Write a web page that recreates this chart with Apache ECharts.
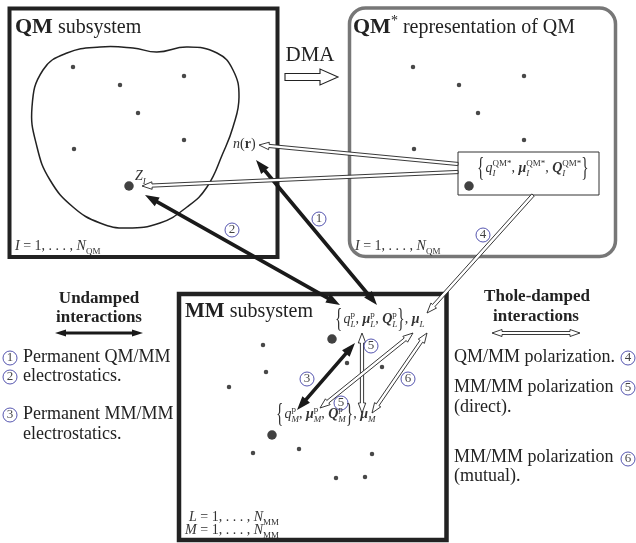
<!DOCTYPE html>
<html><head><meta charset="utf-8">
<script src="https://cdn.jsdelivr.net/npm/echarts@6/dist/echarts.min.js"></script>
<style>html,body{margin:0;padding:0;background:#fff}#c{width:636px;height:543px}</style>
</head><body><div id="c"></div>
<script>
// ---------------- data ----------------
const qmDots = [[73,67],[120,85],[184,76],[138,113],[184,140],[74,149]];
const qmStarDots = [[413,67],[459,85],[524,76],[478,113],[524,140],[414,149]];
const mmDots = [[263,345],[266,372],[229,387],[347,363],[382,367],[253,453],[299,449],[372,454],[336,478],[365,477]];
const bigDots = [[129,186],[469,186],[332,339],[272,435]];
const blobOutline = [[32,107],[43,70],[67,53],[100,47],[133,48],[157,52],[187,47],[217,53],[233,70],[239,97],[233,127],[223,153],[207,187],[187,207],[160,223],[127,228],[100,223],[73,207],[50,180],[37,147]];
const undampedArrows = [[256,160,377,305],[145,195,340,305],[355,343,297,410]];
const tholeArrows = [[362,333,362,413],[413,333,320,408],[427,333,372,413]];
const qmStarArrows = [[458,164,259,145],[458,172,142,186],[533,195,427,313]];
const legendUndamped = [[55,333,143,333]];
const legendThole = [[492,333,580,333]];
const dmaArrow = [[285,77,338,77]];
const circleMarks = [['1',319,219],['2',232,230],['3',307,379],['4',483,235],['5',371,346],['5',341,403],['6',408,379],
  ['1',10,358],['2',10,377],['3',10,415],['4',628,358],['5',628,388],['6',628,459]];

// ---------------- helpers ----------------
const FF = '"Liberation Serif","Times New Roman",serif';
const mctx = document.createElement('canvas').getContext('2d');
function fnt(s){return (s.it?'italic ':'')+(s.b?'bold ':'')+s.size+'px '+FF;}
function tw(t,s){mctx.font=fnt(s);return mctx.measureText(t).width*(s.sx||1);}
function seq(x, base, segs, opt){
  opt = opt||{};
  const defs = {size:opt.size||13, color:opt.color||'#222', b:opt.b, it:opt.it};
  const items=[]; let cx=0;
  segs.forEach(g=>{
    if (typeof g==='string') g={t:g};
    const s=Object.assign({}, defs, g);
    const dy=s.dy||0;
    if (s.t){ items.push({t:s.t,x:cx,dy:dy,s:s}); cx+=tw(s.t,s); }
    let adv=0; const ss=s.ssize||Math.round(s.size*0.66);
    if (s.sup){ const sp={size:ss,it:s.supIt,color:s.color}; items.push({t:s.sup,x:cx,dy:dy-s.size*0.42,s:sp}); adv=Math.max(adv,tw(s.sup,sp)); }
    if (s.sub){ const sb={size:ss,it:s.subIt,color:s.color}; items.push({t:s.sub,x:cx,dy:dy+s.size*0.25,s:sb}); adv=Math.max(adv,tw(s.sub,sb)); }
    cx+=adv+(s.gap||0);
  });
  const x0 = opt.align==='center'? x-cx/2 : opt.align==='right'? x-cx : x;
  return items.map(it=>({type:'text', x:x0+it.x, y:base+it.dy-0.34*it.s.size, z:100, silent:true,
    scaleX: it.s.sx||1, originX:0, originY:0,
    style:{text:it.t, font:fnt(it.s), fill:it.s.color, align:'left', verticalAlign:'middle', textAlign:'left', textVerticalAlign:'middle'}}));
}
function arrowPoly(p1,p2,w,L,H,head1,head2){
  const dx=p2[0]-p1[0], dy=p2[1]-p1[1], len=Math.hypot(dx,dy);
  const ux=dx/len, uy=dy/len, nx=-uy, ny=ux;
  const P=(p,a,b)=>[p[0]+ux*a+nx*b, p[1]+uy*a+ny*b];
  w/=2; H/=2; const pts=[];
  if (head1) pts.push(P(p1,0,0),P(p1,L,H),P(p1,L,w)); else pts.push(P(p1,0,w));
  if (head2) pts.push(P(p2,-L,w),P(p2,-L,H),P(p2,0,0),P(p2,-L,-H),P(p2,-L,-w)); else pts.push(P(p2,0,w),P(p2,0,-w));
  if (head1) pts.push(P(p1,L,-w),P(p1,L,-H)); else pts.push(P(p1,0,-w));
  return pts;
}
function arrowSeries(name, data, o, head1){
  return {type:'custom', name:name, coordinateSystem:'cartesian2d', data:data, encode:{x:[0,2],y:[1,3]}, z:o.z||3, silent:true,
    renderItem:function(params, api){
      const p1=api.coord([api.value(0),api.value(1)]), p2=api.coord([api.value(2),api.value(3)]);
      return {type:'polygon', shape:{points:arrowPoly(p1,p2,o.w,o.L,o.H,head1,true)},
        style:{fill:o.fill, stroke:o.stroke||null, lineWidth:o.lw||0, lineJoin:'miter'}};
    }};
}
const hollow = {w:3.2,L:10,H:7.5,fill:'#fff',stroke:'#222',lw:0.9};
const filled = {w:3.6,L:14,H:10,fill:'#1a1a1a'};

// ---------------- text ----------------
const T = [];
const mathC = '#333';
T.push(...seq(15,35,[{t:'QM',b:1,size:22},{t:' subsystem',size:20}]));
T.push(...seq(353,35,[{t:'QM',b:1,size:22,sup:'*',ssize:14},{t:' representation of QM',size:20}]));
T.push(...seq(310,63,[{t:'DMA',size:21}],{align:'center'}));
T.push(...seq(185,319,[{t:'MM',b:1,size:21},{t:' subsystem',size:20}]));
const rangeQM = [{t:'I',it:1},' = 1, . . . , ',{t:'N',it:1,sub:'QM'}];
T.push(...seq(15,251,rangeQM,{size:14,color:mathC}));
T.push(...seq(355,251,rangeQM,{size:14,color:mathC}));
T.push(...seq(279,522,[{t:'L',it:1},' = 1, . . . , ',{t:'N',it:1,sub:'MM'}],{size:14,color:mathC,align:'right'}));
T.push(...seq(279,535,[{t:'M',it:1},' = 1, . . . , ',{t:'N',it:1,sub:'MM'}],{size:14,color:mathC,align:'right'}));
T.push(...seq(233,149,[{t:'n',it:1},'(',{t:'r',b:1},')'],{size:14,color:mathC}));
T.push(...seq(135,181,[{t:'Z',it:1,sub:'I',subIt:1}],{size:14,color:mathC}));
const brL = {t:'{',size:28,sx:0.55,dy:5,gap:1}, brR = {t:'}',size:28,sx:0.55,dy:5};
T.push(...seq(477,173,[brL,{t:'q',it:1,sup:'QM*',sub:'I',subIt:1},', ',{t:'μ',it:1,b:1,sup:'QM*',sub:'I',subIt:1},', ',{t:'Q',it:1,b:1,sup:'QM*',sub:'I',subIt:1},brR],{size:14,color:mathC}));
T.push(...seq(335,324,[brL,{t:'q',it:1,sup:'p',sub:'L',subIt:1},', ',{t:'μ',it:1,b:1,sup:'p',sub:'L',subIt:1},', ',{t:'Q',it:1,b:1,sup:'p',sub:'L',subIt:1},brR,', ',{t:'μ',it:1,b:1,sub:'L',subIt:1}],{size:14,color:mathC}));
T.push(...seq(276,419,[brL,{t:'q',it:1,sup:'p',sub:'M',subIt:1},', ',{t:'μ',it:1,b:1,sup:'p',sub:'M',subIt:1},', ',{t:'Q',it:1,b:1,sup:'p',sub:'M',subIt:1},brR,', ',{t:'μ',it:1,b:1,sub:'M',subIt:1}],{size:14,color:mathC}));
// legends
T.push(...seq(99,304,['Undamped'],{size:17,b:1,align:'center'}));
T.push(...seq(99,323,['interactions'],{size:17,b:1,align:'center'}));
T.push(...seq(537,302,['Thole-damped'],{size:17,b:1,align:'center'}));
T.push(...seq(536,322,['interactions'],{size:17,b:1,align:'center'}));
T.push(...seq(23,363,['Permanent QM/MM'],{size:18}));
T.push(...seq(23,382,['electrostatics.'],{size:18}));
T.push(...seq(23,420,['Permanent MM/MM'],{size:18}));
T.push(...seq(23,440,['electrostatics.'],{size:18}));
T.push(...seq(454,363,['QM/MM polarization.'],{size:18}));
T.push(...seq(454,393,['MM/MM polarization'],{size:18}));
T.push(...seq(454,413,['(direct).'],{size:18}));
T.push(...seq(454,463,['MM/MM polarization'],{size:18}));
T.push(...seq(454,482,['(mutual).'],{size:18}));

const boxes = [
  {type:'rect', z:1, silent:true, shape:{x:9.5,y:8.5,width:268,height:248.5}, style:{fill:null, stroke:'#222', lineWidth:4}},
  {type:'rect', z:1, silent:true, shape:{x:349.5,y:8,width:266,height:248.5,r:16}, style:{fill:null, stroke:'#777', lineWidth:3.5}},
  {type:'rect', z:1, silent:true, shape:{x:179,y:294,width:267.5,height:246}, style:{fill:null, stroke:'#222', lineWidth:4.5}},
  {type:'rect', z:1, silent:true, shape:{x:458,y:152,width:141,height:43}, style:{fill:'#fff', stroke:'#333', lineWidth:1}}
];

const chart = echarts.init(document.getElementById('c'));
chart.setOption({
  animation:false,
  backgroundColor:'#fff',
  grid:{left:0,right:0,top:0,bottom:0},
  xAxis:{type:'value',min:0,max:636,show:false},
  yAxis:{type:'value',min:0,max:543,inverse:true,show:false},
  graphic:{elements: boxes.concat(T)},
  series:[
    {type:'custom', name:'blob', coordinateSystem:'cartesian2d', data:[[0,0]], z:2, silent:true,
      renderItem:function(params, api){
        return {type:'polygon', shape:{points: blobOutline.map(p=>api.coord(p)), smooth:0.45},
          style:{fill:null, stroke:'#222', lineWidth:1.5}};
      }},
    {type:'scatter', name:'QM sites', data:qmDots, symbolSize:4.5, itemStyle:{color:'#1a1a1a'}, silent:true},
    {type:'scatter', name:'QM* sites', data:qmStarDots, symbolSize:4.5, itemStyle:{color:'#1a1a1a'}, silent:true},
    {type:'scatter', name:'MM sites', data:mmDots, symbolSize:4.5, itemStyle:{color:'#1a1a1a'}, silent:true},
    {type:'scatter', name:'highlighted sites', data:bigDots, symbolSize:9.5, itemStyle:{color:'#111'}, silent:true, z:4},
    arrowSeries('undamped', undampedArrows, filled, true),
    arrowSeries('thole', tholeArrows, hollow, true),
    arrowSeries('qmstar', qmStarArrows, hollow, false),
    arrowSeries('legend undamped', legendUndamped, {w:2.8,L:11,H:7,fill:'#1a1a1a'}, true),
    arrowSeries('legend thole', legendThole, {w:3,L:10,H:7,fill:'#fff',stroke:'#222',lw:0.9}, true),
    arrowSeries('dma', dmaArrow, {w:7,L:18,H:16,fill:'#fff',stroke:'#222',lw:1.1}, false),
    {type:'scatter', name:'labels', z:5, silent:true,
      data: circleMarks.map(c=>({name:c[0], value:[c[1],c[2]]})),
      symbolSize:14, itemStyle:{color:'#fff', borderColor:'#2d2d9c', borderWidth:1},
      label:{show:true, position:'inside', formatter:'{b}', color:'#111', fontSize:13, fontFamily:FF}}
  ]
});
</script></body></html>
